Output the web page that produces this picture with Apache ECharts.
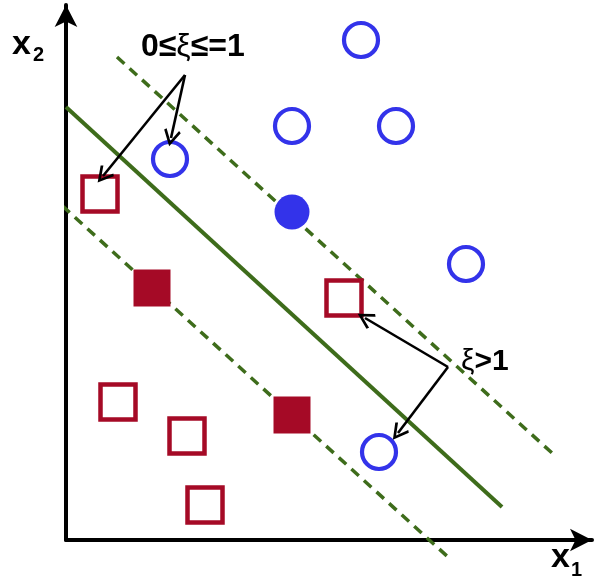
<!DOCTYPE html>
<html>
<head>
<meta charset="utf-8">
<script src="https://cdn.jsdelivr.net/npm/echarts@6/dist/echarts.min.js"></script>
<style>
  html, body { margin: 0; padding: 0; background: #fff; }
  #chart { width: 595px; height: 583px; }
</style>
</head>
<body>
<div id="chart"></div>
<script>
// data (x1, x2 in picture units, origin at bottom-left of canvas)
const circleOpen = [[361, 543], [292, 457], [396, 457], [170, 424], [466, 319], [379, 131]];
const circleFilled = [[292, 371]];
const squareOpen = [[100, 389], [344, 285], [118, 181], [187, 147], [205, 78]];
const squareFilled = [[152, 295], [292, 168]];

const hyperplane = [[66, 476], [502, 76]];
const marginUpper = [[117, 526], [552, 130]];
const marginLower = [[12, 423], [448, 26]];

// annotation arrows: [from, to]
const arrowsInside = [[[185, 508], [103, 407]], [[185, 508], [171, 445]]];
const arrowsOutside = [[[448, 216], [365, 265]], [[448, 216], [398, 150]]];

const BLUE = '#3333ea';
const RED = '#a50a26';
const GREEN = '#3e6c1b';
const FONT = 'Liberation Sans, Arial, sans-serif';

// open chevron arrow head
const chevron = 'path://M10,0 L20,17 L17.5,19 L10,6 L2.5,19 L0,17 Z';

const myChart = echarts.init(document.getElementById('chart'));

const axisCommon = {
  type: 'value',
  axisTick: { show: false },
  axisLabel: { show: false },
  splitLine: { show: false },
  axisLine: {
    show: true,
    onZero: false,
    symbol: ['none', 'arrow'],
    symbolSize: [17, 22],
    lineStyle: { color: '#000', width: 4 }
  }
};

const option = {
  animation: false,
  grid: { left: 66, right: 3, top: 5, bottom: 43 },
  xAxis: Object.assign({}, axisCommon, { min: 66, max: 592 }),
  yAxis: Object.assign({}, axisCommon, { min: 43, max: 578 }),
  graphic: [
    { type: 'text', left: 12, top: 28, style: { text: 'x', font: 'bold 34px ' + FONT, fill: '#000' } },
    { type: 'text', left: 33, top: 45, style: { text: '2', font: 'bold 20px ' + FONT, fill: '#000' } },
    { type: 'text', left: 551, top: 541, style: { text: 'x', font: 'bold 34px ' + FONT, fill: '#000' } },
    { type: 'text', left: 571, top: 560, style: { text: '1', font: 'bold 20px ' + FONT, fill: '#000' } },
    {
      type: 'text', left: 141, top: 31,
      style: {
        text: '{b|0≤}{g|ξ}{b|≤=1}',
        rich: {
          b: { font: 'bold 32px ' + FONT, fill: '#000' },
          g: { font: '32px ' + FONT, fill: '#000' }
        }
      }
    },
    {
      type: 'text', left: 461, top: 347,
      style: {
        text: '{g|ξ}{b|>1}',
        rich: {
          b: { font: 'bold 30px ' + FONT, fill: '#000' },
          g: { font: '30px ' + FONT, fill: '#000' }
        }
      }
    }
  ],
  series: [
    {
      type: 'line', data: hyperplane, symbol: 'none', clip: false, z: 1,
      lineStyle: { color: GREEN, width: 4 }
    },
    {
      type: 'line', data: marginUpper, symbol: 'none', clip: false, z: 1,
      lineStyle: { color: GREEN, width: 3.5, type: [10, 7] }
    },
    {
      type: 'line', data: marginLower, symbol: 'none', clip: false, z: 1,
      lineStyle: { color: GREEN, width: 3.5, type: [10, 7] }
    },
    {
      type: 'scatter', data: circleOpen, symbol: 'circle', symbolSize: 34, z: 3,
      itemStyle: { color: '#fff', borderColor: BLUE, borderWidth: 4.2, opacity: 1 }
    },
    {
      type: 'scatter', data: circleFilled, symbol: 'circle', symbolSize: 35, z: 3,
      itemStyle: { color: BLUE, opacity: 1 }
    },
    {
      type: 'scatter', data: squareOpen, symbol: 'rect', symbolSize: 35, z: 3,
      itemStyle: { color: '#fff', borderColor: RED, borderWidth: 4.5, opacity: 1 }
    },
    {
      type: 'scatter', data: squareFilled, symbol: 'rect', symbolSize: 37, z: 3,
      itemStyle: { color: RED, opacity: 1 }
    },
    {
      type: 'lines', coordinateSystem: 'cartesian2d', z: 5,
      symbol: ['none', chevron], symbolSize: [15, 17],
      lineStyle: { color: '#000', width: 2.6, opacity: 1 },
      data: arrowsInside.concat(arrowsOutside).map(a => ({ coords: a }))
    }
  ]
};

myChart.setOption(option);
window.addEventListener('resize', () => {
  myChart.resize();
});
</script>
</body>
</html>
